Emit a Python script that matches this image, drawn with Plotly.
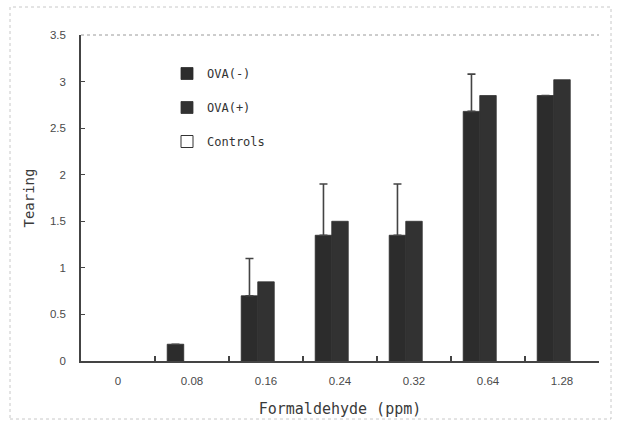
import plotly.graph_objects as go

# Formaldehyde exposure levels (ppm) and mean tearing scores per group
doses = ["0", "0.08", "0.16", "0.24", "0.32", "0.64", "1.28"]
ova_neg = [0, 0.18, 0.70, 1.35, 1.35, 2.68, 2.85]
ova_neg_err = [0, 0, 0.40, 0.55, 0.55, 0.40, 0]
ova_pos = [0, 0, 0.85, 1.50, 1.50, 2.85, 3.02]
controls = [0, 0, 0, 0, 0, 0, 0]

y_ticks = [0, 0.5, 1, 1.5, 2, 2.5, 3, 3.5]

W, H = 621, 429
L, R, T, B = 81, 22, 35, 68
pw, ph = W - L - R, H - T - B

title_font = dict(family="DejaVu Sans Mono, monospace", size=15, color="#3a3a3a")
ytitle_font = dict(family="DejaVu Sans Mono, monospace", size=14, color="#3a3a3a")
tick_font = dict(family="Liberation Sans, Arial, sans-serif", size=11.5, color="#4a4a4a")
legend_font = dict(family="DejaVu Sans Mono, monospace", size=12, color="#333333")


def drawn(values):
    # zero scores are left blank so no sliver appears on the axis
    return [v if v else None for v in values]


fig = go.Figure()
fig.add_trace(go.Bar(
    name="OVA(-)", x=doses, y=drawn(ova_neg), legendgroup="a",
    marker=dict(color="#2c2c2c", line=dict(color="#2c2c2c", width=0.8)),
    error_y=dict(type="data", array=ova_neg_err, arrayminus=[0] * len(doses),
                 symmetric=False, color="#444444", thickness=1.6, width=4),
))
fig.add_trace(go.Bar(
    name="OVA(+)", x=doses, y=drawn(ova_pos), legendgroup="b",
    marker=dict(color="#323232", line=dict(color="#323232", width=0.8)),
))
fig.add_trace(go.Bar(
    name="Controls", x=doses, y=drawn(controls), legendgroup="c",
    marker=dict(color="#ffffff", line=dict(color="#333333", width=1)),
))

def px_x(x):
    return (x - L) / pw

def px_y(y):
    return (H - B - y) / ph

shapes = [
    # faint outer frame around the whole chart
    dict(type="rect", xref="paper", yref="paper",
         x0=px_x(10), x1=px_x(611), y0=px_y(419), y1=px_y(7),
         line=dict(color="#c8c8c8", width=1, dash="dot"), layer="below"),
    # light top border of the plotting area
    dict(type="line", xref="paper", yref="paper", x0=0, x1=1, y0=1, y1=1,
         line=dict(color="#9a9a9a", width=1, dash="dot")),
]

fig.update_layout(
    width=W, height=H,
    margin=dict(l=L, r=R, t=T, b=B),
    paper_bgcolor="white", plot_bgcolor="white",
    barmode="group", bargap=0.33, bargroupgap=0,
    showlegend=True,
    legend=dict(x=px_x(167), y=px_y(59), xanchor="left", yanchor="top",
                bgcolor="rgba(0,0,0,0)", font=legend_font,
                traceorder="grouped", tracegroupgap=15),
    shapes=shapes,
    xaxis=dict(
        type="category", categoryorder="array", categoryarray=doses,
        showline=True, linecolor="#444444", linewidth=1.5,
        ticks="inside", ticklen=5, tickcolor="#444444", tickwidth=1.5,
        tickson="boundaries", tickfont=tick_font, ticklabelstandoff=8,
        showgrid=False, zeroline=False,
        title=dict(text="Formaldehyde (ppm)", font=title_font, standoff=18),
    ),
    yaxis=dict(
        range=[0, 3.5], tickvals=y_ticks,
        showline=True, linecolor="#444444", linewidth=1.5,
        ticks="inside", ticklen=4, tickcolor="#444444", tickwidth=1,
        tickfont=tick_font, ticklabelstandoff=11,
        showgrid=False, zeroline=False,
        title=dict(text="Tearing", font=ytitle_font, standoff=12),
    ),
)

fig.write_html("out.html")
